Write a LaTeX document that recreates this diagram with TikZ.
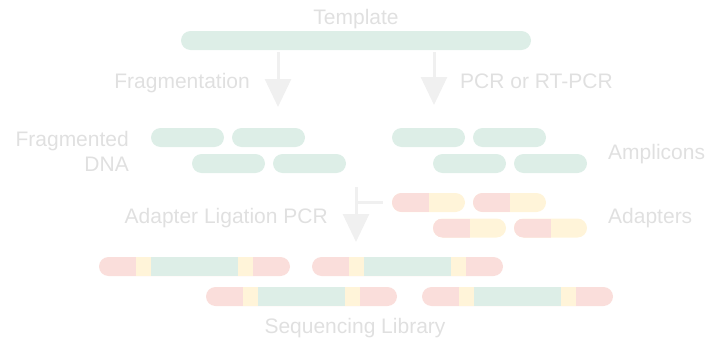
\documentclass[tikz,border=0pt]{standalone}
\usepackage{fontspec}
\setmainfont{Liberation Sans}
\usetikzlibrary{arrows.meta,positioning}

\definecolor{dnagreen}{HTML}{DDEEE7}
\definecolor{adred}{HTML}{FADEDB}
\definecolor{adyellow}{HTML}{FFF4D9}
\definecolor{labelgray}{HTML}{E0E0E0}
\definecolor{shaftgray}{HTML}{F0F0F0}

\begin{document}
\begin{tikzpicture}[x=1pt, y=-1pt,
				bar/.style={minimum width=73pt, minimum height=19pt, rounded corners=9.5pt, draw=none, fill=dnagreen, inner sep=0, outer sep=0},
				adapter/.style={bar, fill=adyellow, path picture={\fill[adred, sharp corners] (path picture bounding box.south west) rectangle (path picture bounding box.north);}},
				libbar/.style={bar, minimum width=191pt, fill=adred, path picture={
						\fill[adyellow, sharp corners] ([xshift=37pt]path picture bounding box.south west) rectangle ([xshift=-37pt]path picture bounding box.north east);
						\fill[dnagreen, sharp corners] ([xshift=52pt]path picture bounding box.south west) rectangle ([xshift=-52pt]path picture bounding box.north east);}},
				lbl/.style={inner sep=0, text=labelgray, font=\fontsize{21}{25}\selectfont},
				flow/.style={draw=shaftgray, line width=3pt, -{Triangle[width=26pt,length=28pt]}}]
				
				\useasboundingbox (0,0) rectangle (710,340);
				
				% template
				\node [bar, minimum width=350pt] (tmpl) at (356,40.5) {};
				\node [lbl, anchor=base] (tmpllbl) at (356,24) {Template};
				
				% fragmented DNA
				\node [bar] (f1) at (187.5,137.5) {};
				\node [bar, right=8pt of f1] (f2) {};
				\node [bar] (f3) at (228.5,163.5) {};
				\node [bar, right=8pt of f3] (f4) {};
				\node [lbl, anchor=base east] (fraglbl) at (129,146) {Fragmented};
				\node [lbl, anchor=base east] (dnalbl) at (129,171) {DNA};
				
				% amplicons
				\node [bar] (a1) at (428.5,137.5) {};
				\node [bar, right=8pt of a1] (a2) {};
				\node [bar] (a3) at (469.5,163.5) {};
				\node [bar, right=8pt of a3] (a4) {};
				\node [lbl, anchor=base west] (amplbl) at (608,159) {Amplicons};
				
				% adapters
				\node [adapter] (d1) at (428.5,202.5) {};
				\node [adapter, right=8pt of d1] (d2) {};
				\node [adapter] (d3) at (469.5,228) {};
				\node [adapter, right=8pt of d3] (d4) {};
				\node [lbl, anchor=base west] (adlbl) at (608,223) {Adapters};
				
				% library
				\node [libbar] (l1) at (194.5,266.5) {};
				\node [libbar] (l2) at (407.5,266.5) {};
				\node [libbar] (l3) at (301.5,296.5) {};
				\node [libbar] (l4) at (517.5,296.5) {};
				\node [lbl, anchor=base] (liblbl) at (355,333) {Sequencing Library};
				
				% steps
				\coordinate (fragtip) at (278,107);
				\coordinate (pcrtip) at (434,105);
				\coordinate (ligtop) at (356,187);
				\coordinate (ligtip) at (356,242);
				\draw [flow, shorten <=2pt] (tmpl.south -| fragtip) -- (fragtip);
				\draw [flow, shorten <=2pt] (tmpl.south -| pcrtip) -- (pcrtip);
				\draw [flow] (ligtop) -- (ligtip);
				\draw [draw=shaftgray, line width=3pt, shorten <=9pt] (d1.west) -- (d1.west -| ligtop);
				\node [lbl, anchor=base east] (fragstep) at (250,88) {Fragmentation};
				\node [lbl, anchor=base west] (pcrstep) at (460,88) {PCR or RT-PCR};
				\node [lbl, anchor=base east] (ligstep) at (328,223) {Adapter Ligation PCR};
				\end{tikzpicture}
\end{document}
